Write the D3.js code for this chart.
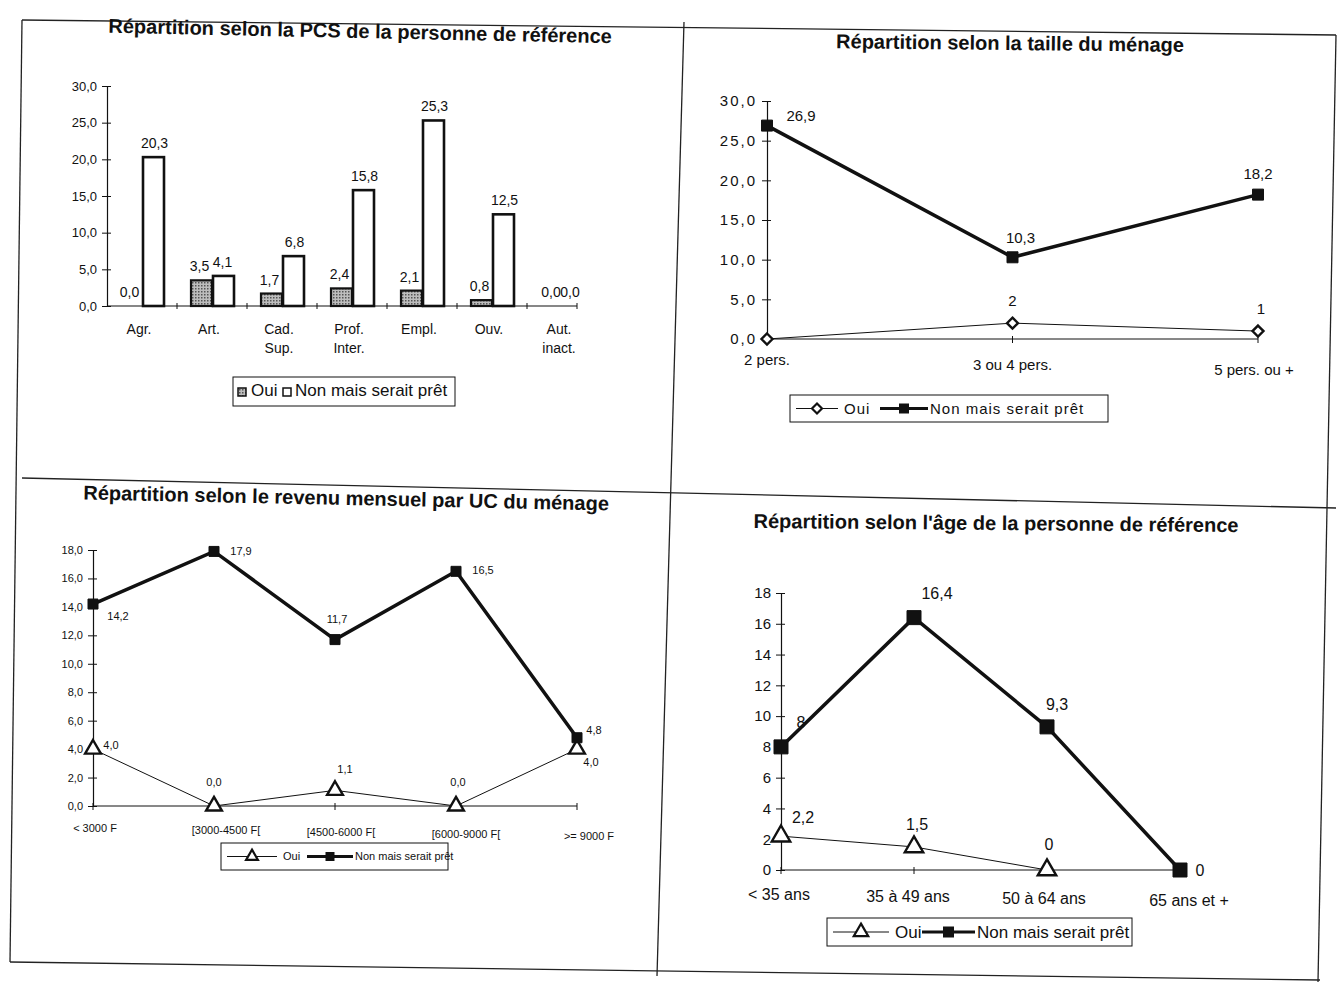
<!DOCTYPE html>
<html><head><meta charset="utf-8">
<script src="https://cdn.jsdelivr.net/npm/d3@7"></script>
<style>
body{margin:0;background:#fff;}
svg{display:block;}
text{font-family:"Liberation Sans Narrow","Arial Narrow","Liberation Sans",sans-serif;fill:#111;}
</style></head>
<body>
<svg id="c" width="1342" height="982"></svg>
<script>
// ---------- DATA ----------
const pcsCategories = ["Agr.", "Art.", "Cad.|Sup.", "Prof.|Inter.", "Empl.", "Ouv.", "Aut.|inact."];
const pcsOui = [0.0, 3.5, 1.7, 2.4, 2.1, 0.8, 0.0];
const pcsNon = [20.3, 4.1, 6.8, 15.8, 25.3, 12.5, 0.0];
const pcsTicks = [0, 5, 10, 15, 20, 25, 30];

const tailleCategories = ["2 pers.", "3 ou 4 pers.", "5 pers. ou +"];
const tailleOui = [0, 2, 1];
const tailleNon = [26.9, 10.3, 18.2];
const tailleTicks = [0, 5, 10, 15, 20, 25, 30];

const revenuCategories = ["< 3000 F", "[3000-4500 F[", "[4500-6000 F[", "[6000-9000 F[", ">= 9000 F"];
const revenuOui = [4.0, 0.0, 1.1, 0.0, 4.0];
const revenuNon = [14.2, 17.9, 11.7, 16.5, 4.8];
const revenuTicks = [0, 2, 4, 6, 8, 10, 12, 14, 16, 18];

const ageCategories = ["< 35 ans", "35 à 49 ans", "50 à 64 ans", "65 ans et +"];
const ageOui = [2.2, 1.5, 0, null];
const ageNon = [8, 16.4, 9.3, 0];
const ageTicks = [0, 2, 4, 6, 8, 10, 12, 14, 16, 18];

const titles = [
  "Répartition selon la PCS de la personne de référence",
  "Répartition selon la taille du ménage",
  "Répartition selon le revenu mensuel par UC du ménage",
  "Répartition selon l'âge de la personne de référence"
];
const legendOui = "Oui";
const legendNon = "Non mais serait prêt";

// ---------- HELPERS ----------
const svg = d3.select("#c");
const fr = v => d3.format(".1f")(v).replace(".", ",");

// page frame (scanned sheet borders)
const frame = svg.append("g").attr("stroke", "#222").attr("stroke-width", 1.3).attr("fill", "none");
[[22,20,1336,35],[22,20,10,962],[684,22,657,976],[22,478,1336,508],[10,962,1320,980],[1336,35,1318,982]]
  .forEach(l => frame.append("line").attr("x1", l[0]).attr("y1", l[1]).attr("x2", l[2]).attr("y2", l[3]));

function title(txt, x, y, size, rot) {
  svg.append("text").attr("x", x).attr("y", y).attr("text-anchor", "middle")
    .attr("font-weight", "bold").attr("font-size", size)
    .attr("font-family", "'Liberation Sans','Arial',sans-serif")
    .attr("transform", `rotate(${rot||0},${x},${y})`)
    .text(txt);
}

function yAxis(g, y, x0, ticks, fmt, fsize, ls) {
  const ax = g.append("g").attr("transform", `translate(${x0},0)`)
    .call(d3.axisLeft(y).tickValues(ticks).tickFormat(fmt).tickSize(5).tickSizeOuter(0));
  ax.select(".domain").attr("stroke", "#111").attr("stroke-width", 1.2);
  ax.selectAll(".tick line").attr("stroke", "#111").attr("x1", -5).attr("x2", 4);
  ax.selectAll(".tick text").attr("font-size", fsize).attr("x", -10)
    .attr("letter-spacing", ls || 0).attr("font-family", "'Liberation Sans','Arial',sans-serif");
  return ax;
}

function markerPath(type, s) {
  if (type === "square") return d3.symbol(d3.symbolSquare, s * s)();
  if (type === "diamond") { const h = s / 2; return `M0,${-h}L${h},0L0,${h}L${-h},0Z`; }
  return d3.symbol(d3.symbolTriangle, s * s * 0.75)();
}

// ---------- PANEL 1 : bars ----------
(function () {
  const g = svg.append("g");
  title(titles[0], 360, 38, 20, 1.2);
  const y = d3.scaleLinear().domain([0, 30]).range([306, 86]);
  const x = d3.scaleBand().domain(pcsCategories).range([107, 597]).paddingInner(0).paddingOuter(0);
  const bw = 21;
  yAxis(g, y, 107, pcsTicks, fr, 13, 0);
  g.append("line").attr("x1", 107).attr("x2", 577).attr("y1", y(0)).attr("y2", y(0)).attr("stroke", "#111").attr("stroke-width", 1.2);
  pcsCategories.forEach((c, i) => {
    if (i > 0) g.append("line").attr("x1", x(c)).attr("x2", x(c)).attr("y1", y(0) - 3).attr("y2", y(0) + 3).attr("stroke", "#111");
  });
  g.append("line").attr("x1", 577).attr("x2", 577).attr("y1", y(0) - 3).attr("y2", y(0) + 3).attr("stroke", "#111");

  const data = pcsCategories.map((c, i) => ({ c, oui: pcsOui[i], non: pcsNon[i], last: i === pcsCategories.length - 1 }));
  const cx = d => x(d.c) + x.bandwidth() / 2;
  const defs = svg.append("defs");
  const pat = defs.append("pattern").attr("id", "dots").attr("width", 3).attr("height", 3).attr("patternUnits", "userSpaceOnUse");
  pat.append("rect").attr("width", 3).attr("height", 3).attr("fill", "#bdbdbd");
  pat.append("rect").attr("width", 1.5).attr("height", 1.5).attr("fill", "#555");

  g.selectAll(".oui").data(data.filter(d => d.oui > 0)).join("rect")
    .attr("x", d => cx(d) - bw).attr("y", d => y(d.oui)).attr("width", bw).attr("height", d => y(0) - y(d.oui))
    .attr("fill", "url(#dots)").attr("stroke", "#111").attr("stroke-width", 2.2);
  g.selectAll(".non").data(data.filter(d => d.non > 0)).join("rect")
    .attr("x", d => cx(d) + 1).attr("y", d => y(d.non)).attr("width", bw).attr("height", d => y(0) - y(d.non))
    .attr("fill", "#fff").attr("stroke", "#111").attr("stroke-width", 2.6);
  g.selectAll(".lo").data(data).join("text")
    .attr("x", d => d.last ? cx(d) - 11 : cx(d) - bw / 2 - 2).attr("y", d => y(d.oui) - 9)
    .attr("text-anchor", "middle").attr("font-size", 14).text(d => fr(d.oui));
  g.selectAll(".ln").data(data).join("text")
    .attr("x", d => d.last ? cx(d) + 8 : cx(d) + bw / 2 + (d.c === "Art." ? 0 : 2)).attr("y", d => y(d.non) - 9)
    .attr("text-anchor", "middle").attr("font-size", 14).text(d => fr(d.non));
  g.selectAll(".cl").data(data).join("text")
    .attr("x", d => cx(d) - 3).attr("y", y(0) + 28).attr("text-anchor", "middle").attr("font-size", 14)
    .each(function (d) {
      const parts = d.c.split("|");
      d3.select(this).selectAll("tspan").data(parts).join("tspan")
        .attr("x", cx(d) - 3).attr("dy", (p, j) => j === 0 ? 0 : 19).text(p => p);
    });
  const lg = g.append("g").attr("transform", "translate(233,377)");
  lg.append("rect").attr("width", 222).attr("height", 29).attr("fill", "#fff").attr("stroke", "#111");
  lg.append("rect").attr("x", 5).attr("y", 11).attr("width", 8).attr("height", 8).attr("fill", "url(#dots)").attr("stroke", "#111").attr("stroke-width", 1.5);
  lg.append("text").attr("x", 18).attr("y", 19).attr("font-size", 17).text(legendOui);
  lg.append("rect").attr("x", 50).attr("y", 11).attr("width", 8).attr("height", 8).attr("fill", "#fff").attr("stroke", "#111").attr("stroke-width", 1.5);
  lg.append("text").attr("x", 62).attr("y", 19).attr("font-size", 17).text(legendNon);
})();

// ---------- LINE PANELS ----------
function linePanel(opt) {
  const g = svg.append("g");
  title(opt.title, opt.tx, opt.ty, opt.tsize, opt.trot);
  const y = d3.scaleLinear().domain([0, d3.max(opt.ticks)]).range([opt.y0, opt.y1]);
  const x = d3.scalePoint().domain(opt.cats).range([opt.x0, opt.x1]);
  yAxis(g, y, opt.x0, opt.ticks, opt.fmt, opt.tickSize, opt.ls);
  g.append("line").attr("x1", opt.x0).attr("x2", opt.x1).attr("y1", y(0)).attr("y2", y(0)).attr("stroke", "#111").attr("stroke-width", 1);
  opt.cats.forEach(c => g.append("line").attr("x1", x(c)).attr("x2", x(c)).attr("y1", y(0) - 3).attr("y2", y(0) + 4).attr("stroke", "#111"));
  opt.cats.forEach((c, i) => g.append("text").attr("x", x(c) + (opt.catDx ? opt.catDx[i] : 0)).attr("y", y(0) + opt.catDy + (opt.catStep || 0) * i)
    .attr("text-anchor", "middle").attr("font-size", opt.catSize).attr("font-family", "'Liberation Sans','Arial',sans-serif").text(c));
  const series = [
    { vals: opt.oui, w: 1, m: opt.ouiMarker, fill: "#fff", ms: opt.msOui, labels: opt.ouiLab },
    { vals: opt.non, w: opt.nonW, m: "square", fill: "#111", ms: opt.msNon, labels: opt.nonLab }
  ];
  series.forEach(s => {
    const pts = opt.cats.map((c, i) => ({ c, v: s.vals[i], i })).filter(p => p.v !== null);
    g.append("path").datum(pts).attr("fill", "none").attr("stroke", "#111").attr("stroke-width", s.w)
      .attr("stroke-linejoin", "miter")
      .attr("d", d3.line().x(p => x(p.c)).y(p => y(p.v)));
    g.selectAll(null).data(pts).join("path")
      .attr("transform", p => `translate(${x(p.c)},${y(p.v)})`)
      .attr("d", markerPath(s.m, s.ms)).attr("fill", s.fill).attr("stroke", "#111").attr("stroke-width", s.m === "square" ? 1 : 2.4);
    g.selectAll(null).data(pts.filter(p => s.labels[p.i])).join("text")
      .attr("x", p => x(p.c) + s.labels[p.i][0]).attr("y", p => y(p.v) + s.labels[p.i][1])
      .attr("text-anchor", "middle").attr("font-size", opt.labSize).attr("font-family", "'Liberation Sans','Arial',sans-serif")
      .text(p => opt.lfmt(p.v));
  });
  const L = opt.legend;
  const lg = g.append("g").attr("transform", `translate(${L.x},${L.y})`);
  lg.append("rect").attr("width", L.w).attr("height", L.h).attr("fill", "#fff").attr("stroke", "#111");
  const my = L.h / 2;
  lg.append("line").attr("x1", 6).attr("x2", L.oL).attr("y1", my).attr("y2", my).attr("stroke", "#111");
  lg.append("path").attr("transform", `translate(${6 + (L.oL - 6) / 2},${my})`).attr("d", markerPath(opt.ouiMarker, L.ms)).attr("fill", "#fff").attr("stroke", "#111").attr("stroke-width", 2.2);
  lg.append("text").attr("x", L.oL + 6).attr("y", my + L.fs * 0.35).attr("font-size", L.fs).attr("letter-spacing", L.ls || 0)
    .attr("font-family", "'Liberation Sans','Arial',sans-serif").text(legendOui);
  lg.append("line").attr("x1", L.n0).attr("x2", L.n1).attr("y1", my).attr("y2", my).attr("stroke", "#111").attr("stroke-width", 3);
  lg.append("path").attr("transform", `translate(${(L.n0 + L.n1) / 2},${my})`).attr("d", markerPath("square", L.ms)).attr("fill", "#111");
  lg.append("text").attr("x", L.n1 + 2).attr("y", my + L.fs * 0.35).attr("font-size", L.fs).attr("letter-spacing", L.ls || 0)
    .attr("font-family", "'Liberation Sans','Arial',sans-serif").text(legendNon);
}

// Panel 2 : taille
linePanel({
  title: titles[1], tx: 1010, ty: 50, tsize: 20, trot: 0.6,
  cats: tailleCategories, oui: tailleOui, non: tailleNon, ticks: tailleTicks,
  x0: 767, x1: 1258, y0: 339, y1: 101,
  fmt: fr, tickSize: 15, ls: 2, lfmt: v => (Number.isInteger(v) && v < 5 ? String(v) : fr(v)),
  catDy: 26, catStep: 5, catSize: 15, catDx: [0, 0, -4],
  ouiMarker: "diamond", msOui: 11, msNon: 11, nonW: 3.5, labSize: 15,
  ouiLab: [null, [0, -17], [3, -17]], nonLab: [[34, -5], [8, -14], [0, -16]],
  legend: { x: 790, y: 395, w: 318, h: 27, oL: 48, n0: 90, n1: 138, ms: 10, fs: 15, ls: 1 }
});

// Panel 3 : revenu
linePanel({
  title: titles[2], tx: 346, ty: 505, tsize: 20, trot: 1.2,
  cats: revenuCategories, oui: revenuOui, non: revenuNon, ticks: revenuTicks,
  x0: 93, x1: 577, y0: 806, y1: 550,
  fmt: fr, tickSize: 11, ls: 0, lfmt: fr,
  catDy: 26, catStep: 2, catSize: 11, catDx: [2, 12, 6, 10, 12],
  ouiMarker: "triangle", msOui: 12, msNon: 10, nonW: 3.5, labSize: 11,
  ouiLab: [[18, 0], [0, -20], [10, -17], [2, -20], [14, 17]],
  nonLab: [[25, 16], [27, 4], [2, -17], [27, 3], [17, -4]],
  legend: { x: 221, y: 843, w: 227, h: 27, oL: 56, n0: 86, n1: 132, ms: 9, fs: 11, ls: 0 }
});

// Panel 4 : age
linePanel({
  title: titles[3], tx: 996, ty: 530, tsize: 20, trot: 0.5,
  cats: ageCategories, oui: ageOui, non: ageNon, ticks: ageTicks,
  x0: 781, x1: 1180, y0: 870, y1: 593,
  fmt: d3.format("d"), tickSize: 15, ls: 0, lfmt: v => String(v).replace(".", ","),
  catDy: 30, catStep: 2, catSize: 16, catDx: [-2, -6, -3, 9],
  ouiMarker: "triangle", msOui: 14, msNon: 14, nonW: 3.5, labSize: 16,
  ouiLab: [[22, -13], [3, -17], [2, -20]],
  nonLab: [[20, -19], [23, -19], [10, -17], [20, 6]],
  legend: { x: 827, y: 918, w: 305, h: 28, oL: 62, n0: 95, n1: 148, ms: 11, fs: 17, ls: 0 }
});
</script>
</body></html>
